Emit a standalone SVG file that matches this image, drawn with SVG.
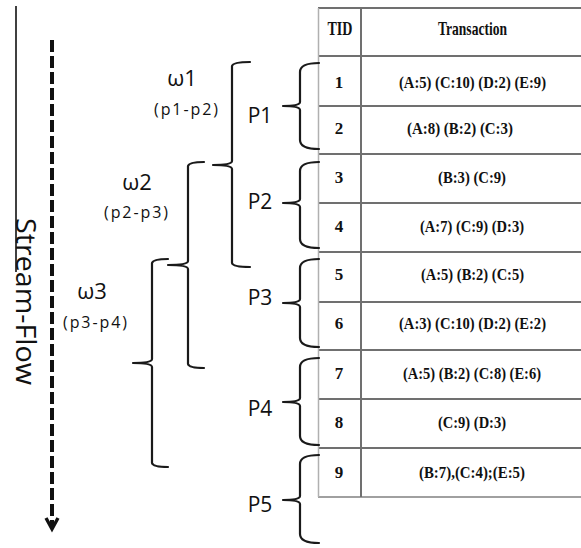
<svg xmlns="http://www.w3.org/2000/svg" width="581" height="548" viewBox="0 0 581 548">
  <style>
    .brace { fill: none; stroke: #1a1a1a; stroke-width: 2.2; stroke-linecap: round; stroke-linejoin: round; }
    .grid { stroke: #707070; stroke-width: 2; }
    .lab { font-family: "Open Sans", "Liberation Sans", sans-serif; fill: #111; }
    .w { font-size: 22px; text-anchor: middle; }
    .rng { font-size: 16px; text-anchor: middle; }
    .p { font-size: 21px; text-anchor: middle; }
    .cell { font-family: "Liberation Serif", "Times New Roman", serif; font-weight: bold; fill: #111; font-size: 17px; }
    .head { font-family: "Liberation Serif", "Times New Roman", serif; font-weight: bold; fill: #111; font-size: 19px; }
  </style>

  <rect width="581" height="548" fill="#ffffff"/>

  <!-- stream flow direction -->
  <g id="stream">
    <line x1="16" y1="6" x2="16" y2="272" stroke="#000" stroke-width="1.5"/>
    <line x1="52" y1="40" x2="52" y2="526" stroke="#111" stroke-width="4" stroke-dasharray="12 4"/>
    <path d="M46 518 L52 529 L58 518" fill="none" stroke="#111" stroke-width="3.4" stroke-linejoin="miter"/>
    <text class="lab" transform="translate(16 218) rotate(90)" font-size="27" textLength="167" lengthAdjust="spacingAndGlyphs">Stream-Flow</text>
  </g>

  <!-- table -->
  <g id="table">
    <g class="grid">
      <line x1="318" y1="8" x2="581" y2="8"/>
      <line x1="318" y1="56" x2="581" y2="56"/>
      <line x1="318" y1="106" x2="581" y2="106"/>
      <line x1="318" y1="154" x2="581" y2="154"/>
      <line x1="318" y1="203" x2="581" y2="203"/>
      <line x1="318" y1="252" x2="581" y2="252"/>
      <line x1="318" y1="302" x2="581" y2="302"/>
      <line x1="318" y1="350" x2="581" y2="350"/>
      <line x1="318" y1="399" x2="581" y2="399"/>
      <line x1="318" y1="448" x2="581" y2="448"/>
      <line x1="318" y1="497" x2="581" y2="497" stroke="#a0a0a0"/>
      <line x1="361" y1="8" x2="361" y2="497"/>
      <line x1="318.5" y1="8" x2="318.5" y2="497" stroke="#b0b0b0" stroke-width="1.5"/>
    </g>
    <text class="head" x="340" y="35" text-anchor="middle" textLength="25" lengthAdjust="spacingAndGlyphs">TID</text>
    <text class="head" x="438" y="35" textLength="69" lengthAdjust="spacingAndGlyphs">Transaction</text>

    <g id="row1"><text class="cell" x="339" y="88" text-anchor="middle">1</text><text class="cell" x="399" y="88" textLength="147" lengthAdjust="spacingAndGlyphs">(A:5) (C:10) (D:2) (E:9)</text></g>
    <g id="row2"><text class="cell" x="339" y="134" text-anchor="middle">2</text><text class="cell" x="407" y="134" textLength="106" lengthAdjust="spacingAndGlyphs">(A:8) (B:2) (C:3)</text></g>
    <g id="row3"><text class="cell" x="339" y="183" text-anchor="middle">3</text><text class="cell" x="438" y="183" textLength="68" lengthAdjust="spacingAndGlyphs">(B:3) (C:9)</text></g>
    <g id="row4"><text class="cell" x="339" y="232" text-anchor="middle">4</text><text class="cell" x="420" y="232" textLength="104" lengthAdjust="spacingAndGlyphs">(A:7) (C:9) (D:3)</text></g>
    <g id="row5"><text class="cell" x="339" y="280" text-anchor="middle">5</text><text class="cell" x="421" y="280" textLength="103" lengthAdjust="spacingAndGlyphs">(A:5) (B:2) (C:5)</text></g>
    <g id="row6"><text class="cell" x="339" y="329" text-anchor="middle">6</text><text class="cell" x="399" y="329" textLength="147" lengthAdjust="spacingAndGlyphs">(A:3) (C:10) (D:2) (E:2)</text></g>
    <g id="row7"><text class="cell" x="339" y="379" text-anchor="middle">7</text><text class="cell" x="403" y="379" textLength="138" lengthAdjust="spacingAndGlyphs">(A:5) (B:2) (C:8) (E:6)</text></g>
    <g id="row8"><text class="cell" x="339" y="428" text-anchor="middle">8</text><text class="cell" x="438" y="428" textLength="68" lengthAdjust="spacingAndGlyphs">(C:9) (D:3)</text></g>
    <g id="row9"><text class="cell" x="339" y="478" text-anchor="middle">9</text><text class="cell" x="419" y="478" textLength="106" lengthAdjust="spacingAndGlyphs">(B:7),(C:4);(E:5)</text></g>
  </g>

  <!-- partition braces -->
  <g id="connectors">
    <path class="brace" d="M319 63 Q300 63 300 72 L300 102 Q300 106 283 106 Q300 106 300 110 L300 140 Q300 149 319 149"/>
    <path class="brace" d="M319 162 Q300 162 300 171 L300 199 Q300 203 283 203 Q300 203 300 207 L300 239 Q300 248 319 248"/>
    <path class="brace" d="M319 259 Q300 259 300 268 L300 299 Q300 303 283 303 Q300 303 300 307 L300 338 Q300 347 319 347"/>
    <path class="brace" d="M319 358 Q300 358 300 367 L300 398 Q300 402 283 402 Q300 402 300 406 L300 436 Q300 445 319 445"/>
    <path class="brace" d="M319 455 Q300 455 300 464 L300 496 Q300 500 283 500 Q300 500 300 504 L300 534 Q300 543 319 543"/>

    <!-- window braces -->
    <path class="brace" d="M250 62 Q233 62 232 66 L232 161 Q232 165 213 165 Q232 165 232 169 L232 263 Q233 267 250 267"/>
    <path class="brace" d="M204 162 Q189 162 188 166 L188 261 Q188 265 168 265 Q188 265 188 269 L188 364 Q189 368 204 368"/>
    <path class="brace" d="M168 259 Q153 259 152 263 L152 359 Q152 363 133 363 Q152 363 152 367 L152 463 Q153 467 168 467"/>
  </g>

  <g id="P1"><text class="lab p" x="260" y="123">P1</text></g>
  <g id="P2"><text class="lab p" x="260" y="209">P2</text></g>
  <g id="P3"><text class="lab p" x="260" y="305">P3</text></g>
  <g id="P4"><text class="lab p" x="260" y="416">P4</text></g>
  <g id="P5"><text class="lab p" x="260" y="512">P5</text></g>

  <g id="w1"><text class="lab w" x="182" y="86">ω1</text><text class="lab rng" x="186" y="115" textLength="64" lengthAdjust="spacing">(p1-p2)</text></g>
  <g id="w2"><text class="lab w" x="137" y="190">ω2</text><text class="lab rng" x="136" y="218" textLength="64" lengthAdjust="spacing">(p2-p3)</text></g>
  <g id="w3"><text class="lab w" x="92" y="299">ω3</text><text class="lab rng" x="95" y="328" textLength="64" lengthAdjust="spacing">(p3-p4)</text></g>
</svg>
